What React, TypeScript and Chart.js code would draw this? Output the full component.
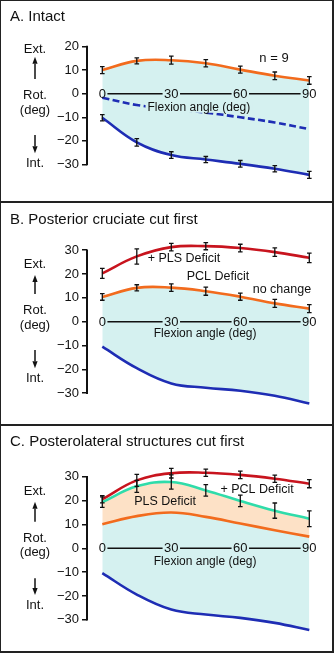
import React, { useEffect, useRef } from "react";
import { Chart, registerables } from "chart.js";
Chart.register(...registerables);

const FONT = '"Liberation Sans", Arial, Helvetica, sans-serif';
const INK = "#111";
const ORANGE = "#f26b1d";
const RED = "#c8141e";
const BLUE = "#1e2db4";
const TEAL = "#2fdcaa";
const CYAN_FILL = "#d5f1f0";
const PEACH_FILL = "#fde1c6";

// ---- data ----
const flexionAngles = [0, 15, 30, 45, 60, 75, 90];
const flexionTickValues = [0, 30, 60, 90];
const flexionTickLabels = ["0", "30", "60", "90"];
const rotTicksA = [20, 10, 0, -10, -20, -30];
const rotTicksBC = [30, 20, 10, 0, -10, -20, -30];

// Panel A - intact
const intactExternal = [10.0, 13.9, 14.2, 12.9, 10.2, 7.6, 5.6];
const intactExternalErr = [1.5, 1.3, 1.7, 1.5, 1.5, 1.6, 1.6];
const intactInternal = [-10.2, -20.6, -26.0, -27.9, -29.7, -31.8, -34.4];
const intactInternalErr = [1.3, 1.6, 1.4, 1.3, 1.4, 1.3, 1.5];
const intactNeutral = [-1.7, -4.8, -6.5, -8.0, -10.0, -12.2, -15.0];

// Panel B - PCL cut first
const pclPlsExternal = [20.3, 27.4, 31.3, 31.7, 30.9, 29.2, 26.8];
const pclPlsExternalErr = [2.1, 3.2, 1.6, 1.5, 1.6, 1.8, 2.0];
const pclExternal = [10.4, 14.2, 14.3, 12.8, 10.5, 7.7, 5.5];
const pclExternalErr = [1.4, 1.3, 1.6, 1.7, 1.5, 1.7, 1.7];
const pclInternal = [-10.5, -19.5, -25.9, -27.7, -29.0, -31.1, -34.3];

// Panel C - PLS cut first
const plsPclExternal = [20.6, 28.5, 31.5, 31.7, 30.8, 29.2, 27.1];
const plsPclExternalErr = [1.5, 2.5, 2.0, 1.5, 1.6, 1.5, 1.7];
const plsExternal = [19.4, 26.0, 27.8, 24.3, 19.9, 15.8, 12.4];
const plsExternalErr = [2.2, 2.5, 3.0, 2.4, 2.4, 3.2, 3.3];
const plsIntactExternal = [10.1, 13.5, 15.0, 13.2, 10.4, 7.6, 4.9];
const plsInternal = [-10.4, -19.4, -25.7, -27.8, -29.2, -31.3, -34.3];

const X_MIN = -6.652;
const X_MAX = 94.65;

const fmt = (v: number) => (v < 0 ? "\u2212" + Math.abs(v) : String(v));

const line = (values: number[], color: string, extra: any = {}) => ({
  data: flexionAngles.map((x, i) => ({ x, y: values[i] })),
  borderColor: color,
  backgroundColor: color,
  borderWidth: 2.6,
  pointRadius: 0,
  tension: 0.4,
  fill: false,
  ...extra,
});

type Note = { text: string; x: number; y: number; size?: number; bg?: string };
type Side = { ext: number; up: [number, number]; rot: number; deg: number; down: [number, number]; int: number };
type PanelCfg = {
  title: string;
  top: number;
  height: number;
  yMin: number;
  yMax: number;
  padTop: number;
  padBottom: number;
  yTicks: number[];
  datasets: any[];
  notes: Note[];
  side: Side;
};

const panels: PanelCfg[] = [
  {
    title: "A. Intact",
    top: 0,
    height: 203,
    yMin: -38,
    yMax: 22,
    padTop: 41.78,
    padBottom: 19.62,
    yTicks: rotTicksA,
    datasets: [
      line(intactExternal, ORANGE, { fill: { target: 1 }, backgroundColor: CYAN_FILL, errorBars: intactExternalErr }),
      line(intactInternal, BLUE, { errorBars: intactInternalErr }),
      line(intactNeutral, BLUE, { borderDash: [7, 3.5] }),
    ],
    notes: [
      { text: "n = 9", x: 74.65, y: 15.1, size: 13 },
      { text: "Flexion angle (deg)", x: 42, y: -5.76, size: 12, bg: CYAN_FILL },
    ],
    side: { ext: -44.4, up: [-37, -14.7], rot: 2, deg: 16.3, down: [41.3, 59.6], int: 69.6 },
  },
  {
    title: "B. Posterior cruciate cut first",
    top: 203,
    height: 222,
    yMin: -36,
    yMax: 33,
    padTop: 40.06,
    padBottom: 17.51,
    yTicks: rotTicksBC,
    datasets: [
      line(pclPlsExternal, RED, { errorBars: pclPlsExternalErr }),
      line(pclExternal, ORANGE, { fill: { target: 2 }, backgroundColor: CYAN_FILL, errorBars: pclExternalErr }),
      line(pclInternal, BLUE),
    ],
    notes: [
      { text: "+ PLS Deficit", x: 35.5, y: 26.4 },
      { text: "PCL Deficit", x: 50.3, y: 18.9 },
      { text: "no change", x: 78.1, y: 13.7 },
      { text: "Flexion angle (deg)", x: 44.7, y: -5.0, size: 12 },
    ],
    side: { ext: -57.7, up: [-46.7, -27.7], rot: -11, deg: 3.3, down: [28.3, 46.6], int: 56.6 },
  },
  {
    title: "C. Posterolateral structures cut first",
    top: 425,
    height: 228,
    yMin: -36,
    yMax: 33,
    padTop: 44.66,
    padBottom: 18.91,
    yTicks: rotTicksBC,
    datasets: [
      line(plsPclExternal, RED, { errorBars: plsPclExternalErr }),
      line(plsExternal, TEAL, { fill: { target: 2 }, backgroundColor: PEACH_FILL, errorBars: plsExternalErr }),
      line(plsIntactExternal, ORANGE, { fill: { target: 3 }, backgroundColor: CYAN_FILL }),
      line(plsInternal, BLUE),
    ],
    notes: [
      { text: "+ PCL Deficit", x: 67.3, y: 24.8 },
      { text: "PLS Deficit", x: 27.3, y: 19.6 },
      { text: "Flexion angle (deg)", x: 44.7, y: -5.6, size: 12 },
    ],
    side: { ext: -56.6, up: [-46.6, -26.6], rot: -10, deg: 4.4, down: [30, 46.7], int: 56.7 },
  },
];

function drawArrow(ctx: CanvasRenderingContext2D, x: number, yTail: number, yTip: number) {
  const dir = yTip < yTail ? -1 : 1;
  const head = 7;
  ctx.beginPath();
  ctx.moveTo(x, yTail);
  ctx.lineTo(x, yTip - dir * head);
  ctx.lineWidth = 1.5;
  ctx.strokeStyle = INK;
  ctx.stroke();
  ctx.beginPath();
  ctx.moveTo(x, yTip);
  ctx.lineTo(x - 2.6, yTip - dir * head);
  ctx.lineTo(x + 2.6, yTip - dir * head);
  ctx.closePath();
  ctx.fillStyle = INK;
  ctx.fill();
}

const makeDecor = (cfg: PanelCfg) => ({
  id: "decor",
  afterDatasetsDraw(chart: any) {
    const ctx: CanvasRenderingContext2D = chart.ctx;
    const xs = chart.scales.x;
    const ys = chart.scales.y;
    const zeroY = ys.getPixelForValue(0);
    ctx.save();

    // y axis line (from top tick to bottom tick)
    const ax = chart.chartArea.left;
    ctx.strokeStyle = INK;
    ctx.lineWidth = 2;
    ctx.beginPath();
    ctx.moveTo(ax, ys.getPixelForValue(Math.max(...cfg.yTicks)) - 0.75);
    ctx.lineTo(ax, ys.getPixelForValue(Math.min(...cfg.yTicks)) + 0.75);
    ctx.stroke();

    // notes
    ctx.textAlign = "center";
    ctx.textBaseline = "middle";
    for (const n of cfg.notes) {
      ctx.font = `${n.size ?? 12.5}px ${FONT}`;
      const px = xs.getPixelForValue(n.x);
      const py = ys.getPixelForValue(n.y);
      if (n.bg) {
        const w = ctx.measureText(n.text).width;
        ctx.fillStyle = n.bg;
        ctx.fillRect(px - w / 2 - 2, py - 6, w + 4, 11.5);
      }
      ctx.fillStyle = INK;
      ctx.fillText(n.text, px, py);
    }

    // zero (flexion) axis with labels in line
    ctx.font = `13px ${FONT}`;
    const pos = flexionTickValues.map((v) => xs.getPixelForValue(v));
    const widths = flexionTickLabels.map((t) => ctx.measureText(t).width);
    ctx.fillStyle = INK;
    flexionTickLabels.forEach((t, i) => ctx.fillText(t, pos[i], zeroY + 0.5));
    ctx.lineWidth = 1.5;
    ctx.beginPath();
    for (let i = 0; i < pos.length - 1; i++) {
      ctx.moveTo(pos[i] + widths[i] / 2 + 1.5, zeroY);
      ctx.lineTo(pos[i + 1] - widths[i + 1] / 2 - 1.5, zeroY);
    }
    ctx.stroke();

    // error bars
    ctx.strokeStyle = INK;
    ctx.lineWidth = 1.3;
    chart.data.datasets.forEach((ds: any, di: number) => {
      if (!ds.errorBars) return;
      const meta = chart.getDatasetMeta(di);
      ds.data.forEach((p: any, i: number) => {
        const e = ds.errorBars[i];
        const x = meta.data[i].x;
        const y1 = ys.getPixelForValue(p.y + e);
        const y2 = ys.getPixelForValue(p.y - e);
        ctx.beginPath();
        ctx.moveTo(x, y1);
        ctx.lineTo(x, y2);
        ctx.moveTo(x - 2.3, y1);
        ctx.lineTo(x + 2.3, y1);
        ctx.moveTo(x - 2.3, y2);
        ctx.lineTo(x + 2.3, y2);
        ctx.stroke();
      });
    });

    // title
    ctx.textAlign = "left";
    ctx.textBaseline = "alphabetic";
    ctx.font = `15px ${FONT}`;
    ctx.fillStyle = INK;
    ctx.fillText(cfg.title, 10, 20.5);

    // side labels
    const sx = 35;
    ctx.textAlign = "center";
    ctx.textBaseline = "middle";
    ctx.font = `13px ${FONT}`;
    ctx.fillText("Ext.", sx, zeroY + cfg.side.ext);
    ctx.fillText("Rot.", sx, zeroY + cfg.side.rot);
    ctx.fillText("(deg)", sx, zeroY + cfg.side.deg);
    ctx.fillText("Int.", sx, zeroY + cfg.side.int);
    drawArrow(ctx, sx, zeroY + cfg.side.up[1], zeroY + cfg.side.up[0]);
    drawArrow(ctx, sx, zeroY + cfg.side.down[0], zeroY + cfg.side.down[1]);

    ctx.restore();
  },
});

function Panel({ cfg }: { cfg: PanelCfg }) {
  const ref = useRef<HTMLCanvasElement>(null);
  useEffect(() => {
    const chart = new Chart(ref.current as HTMLCanvasElement, {
      type: "line",
      data: { datasets: cfg.datasets },
      options: {
        responsive: false,
        animation: false,
        events: [],
        layout: { padding: { left: 0, right: 14, top: cfg.padTop, bottom: cfg.padBottom } },
        plugins: {
          legend: { display: false },
          tooltip: { enabled: false },
          filler: { drawTime: "beforeDatasetsDraw" },
        } as any,
        scales: {
          x: { type: "linear", display: false, min: X_MIN, max: X_MAX },
          y: {
            type: "linear",
            position: "left",
            min: cfg.yMin,
            max: cfg.yMax,
            afterFit: (s: any) => {
              s.width = 87;
            },
            afterBuildTicks: (s: any) => {
              s.ticks = cfg.yTicks.map((v) => ({ value: v }));
            },
            ticks: {
              font: { family: FONT, size: 13 },
              color: INK,
              padding: 3,
              callback: (v: any) => fmt(Number(v)),
            },
            grid: { drawOnChartArea: false, tickLength: 5, color: INK, lineWidth: 1.5 },
            border: { display: false },
          },
        },
      } as any,
      plugins: [makeDecor(cfg)],
    });
    return () => chart.destroy();
  }, []);
  return (
    <canvas
      ref={ref}
      width={334}
      height={cfg.height}
      style={{ position: "absolute", left: 0, top: cfg.top, width: 334, height: cfg.height }}
    />
  );
}

export default function App() {
  return (
    <div style={{ position: "absolute", left: 0, top: 0, width: 334, height: 653, background: "#fff" }}>
      {panels.map((p, i) => (
        <Panel key={i} cfg={p} />
      ))}
      <div
        style={{
          position: "absolute",
          left: 0,
          top: 0,
          width: 334,
          height: 653,
          boxSizing: "border-box",
          borderStyle: "solid",
          borderColor: "#222",
          borderWidth: "1px 2px 2px 1px",
          pointerEvents: "none",
        }}
      />
      <div style={{ position: "absolute", left: 0, top: 201, width: 334, height: 2, background: "#222" }} />
      <div style={{ position: "absolute", left: 0, top: 424, width: 334, height: 2, background: "#222" }} />
    </div>
  );
}
